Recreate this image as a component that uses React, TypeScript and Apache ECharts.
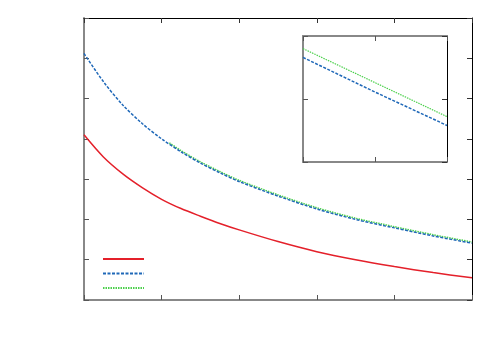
import React, { useEffect, useRef } from "react";
import * as echarts from "echarts";

const xs = [0, 0.25, 0.5, 0.75, 1, 1.25, 1.5, 1.75, 2, 2.5, 3, 3.5, 4, 4.5, 5];
const redVals = [4.1, 3.55, 3.13, 2.79, 2.5, 2.27, 2.08, 1.9, 1.74, 1.45, 1.2, 1.0, 0.83, 0.68, 0.55];
const blueVals = [6.12, 5.42, 4.84, 4.38, 4.0, 3.68, 3.4, 3.16, 2.94, 2.58, 2.26, 2.0, 1.79, 1.59, 1.41];
const greenStartX = 1.1;
const greenStartVal = 3.9;
const greenVals = [null, null, null, null, null, 3.71, 3.43, 3.19, 2.97, 2.61, 2.29, 2.03, 1.82, 1.62, 1.44];

const insetX = [0, 1, 2];
const insetBlue = [1.66, 1.11, 0.58];
const insetGreen = [1.8, 1.26, 0.72];

const seriesNames = ["s1", "s2", "s3"];

const RED = "#e4202a";
const BLUE = "#1f68b8";
const GREEN = "#4cd04c";
const GRAY = "#888888";

function pairs(x: number[], y: (number | null)[]) {
  return x.map((v, i) => [v, y[i]]).filter((p) => p[1] !== null);
}

function axisPair(kind: "x" | "y", gridIndex: number, min: number, max: number, interval: number, grayFirst: boolean, graySecond: boolean) {
  const mk = (pos: string, gray: boolean) => ({
    type: "value",
    gridIndex,
    position: pos,
    min,
    max,
    interval,
    axisLine: { show: true, onZero: false, lineStyle: { color: gray ? GRAY : "#000", width: gray ? 2 : 1 } },
    axisTick: { show: true, inside: true, length: 5, lineStyle: { color: gray ? "#555" : "#333", width: 1 } },
    axisLabel: { show: false },
    splitLine: { show: false },
  });
  if (kind === "x") return [mk("bottom", grayFirst), mk("top", graySecond)];
  return [mk("left", grayFirst), mk("right", graySecond)];
}

export default function App() {
  const ref = useRef<HTMLDivElement>(null);
  useEffect(() => {
    if (!ref.current) return;
    const chart = echarts.init(ref.current, null, { renderer: "svg" });
    const xAxes = [
      ...axisPair("x", 0, 0, 5, 1, true, false),
      ...axisPair("x", 1, 0, 2, 1, true, true),
    ];
    const yAxes = [
      ...axisPair("y", 0, 0, 7, 1, true, false),
      ...axisPair("y", 1, 0, 2, 1, true, false),
    ];
    const greenData = [[greenStartX, greenStartVal], ...pairs(xs, greenVals)];
    chart.setOption({
      animation: false,
      backgroundColor: "#fff",
      grid: [
        { left: 84, top: 18, right: 28, bottom: 50 },
        { left: 303, top: 36, width: 144, height: 126, backgroundColor: "#fff", show: true, borderWidth: 0 },
      ],
      xAxis: xAxes,
      yAxis: yAxes,
      legend: {
        orient: "vertical",
        left: 97,
        top: 249,
        itemWidth: 41,
        itemHeight: 10,
        itemGap: 5.5,
        data: seriesNames,
        formatter: () => "",
        textStyle: { fontSize: 1 },
        itemStyle: { opacity: 0 },
        selectedMode: false,
      },
      series: [
        {
          name: seriesNames[2],
          type: "line",
          xAxisIndex: 0,
          yAxisIndex: 0,
          data: greenData,
          smooth: 0.3,
          symbol: "none",
          lineStyle: { color: GREEN, width: 1.5, type: [1.5, 1] },
          itemStyle: { color: GREEN },
        },
        {
          name: seriesNames[0],
          type: "line",
          xAxisIndex: 0,
          yAxisIndex: 0,
          data: pairs(xs, redVals),
          smooth: 0.3,
          symbol: "none",
          lineStyle: { color: RED, width: 1.5 },
          itemStyle: { color: RED },
        },
        {
          name: seriesNames[1],
          type: "line",
          xAxisIndex: 0,
          yAxisIndex: 0,
          data: pairs(xs, blueVals),
          smooth: 0.3,
          symbol: "none",
          lineStyle: { color: BLUE, width: 1.5, type: [3, 1.5] },
          itemStyle: { color: BLUE },
        },
        {
          name: seriesNames[2],
          type: "line",
          xAxisIndex: 2,
          yAxisIndex: 2,
          data: pairs(insetX, insetGreen),
          symbol: "none",
          lineStyle: { color: GREEN, width: 1.2, type: [1.5, 1] },
          itemStyle: { color: GREEN },
        },
        {
          name: seriesNames[1],
          type: "line",
          xAxisIndex: 2,
          yAxisIndex: 2,
          data: pairs(insetX, insetBlue),
          symbol: "none",
          lineStyle: { color: BLUE, width: 1.5, type: [3, 1.5] },
          itemStyle: { color: BLUE },
        },
      ],
    });
    return () => chart.dispose();
  }, []);
  return <div ref={ref} style={{ position: "fixed", left: 0, top: 0, width: 500, height: 350 }} />;
}
